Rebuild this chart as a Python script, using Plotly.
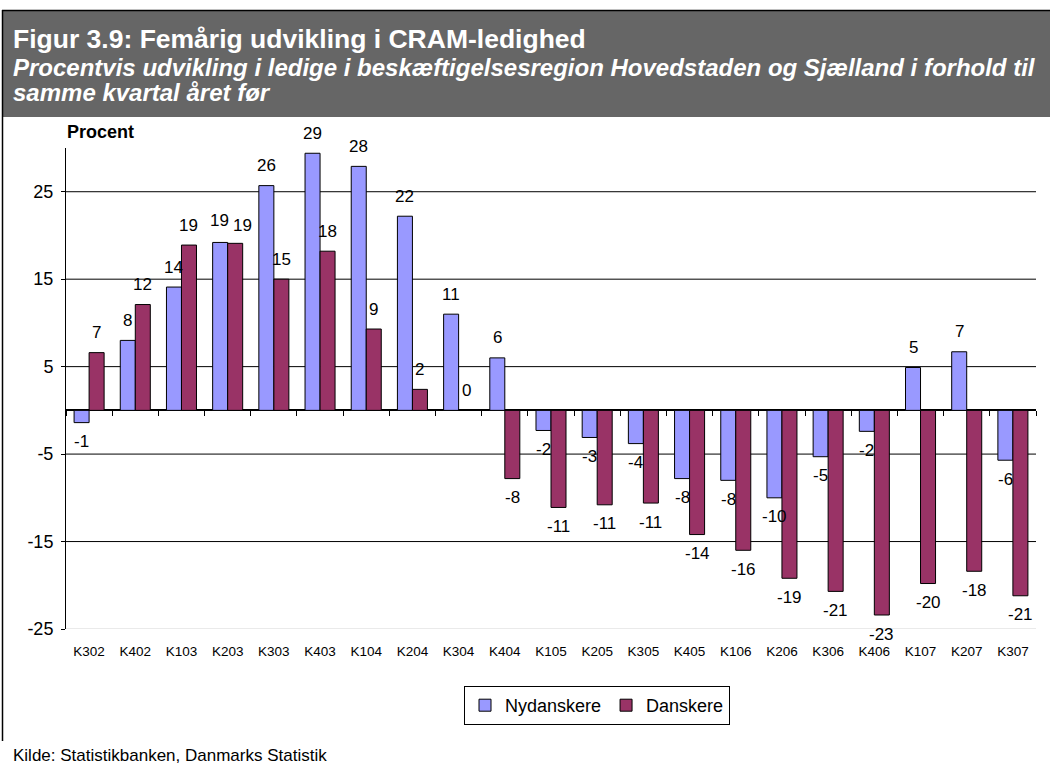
import plotly.graph_objects as go

categories = ["K302", "K402", "K103", "K203", "K303", "K403", "K104", "K204", "K304", "K404",
              "K105", "K205", "K305", "K405", "K106", "K206", "K306", "K406", "K107", "K207", "K307"]
nydanskere = [-1.4, 8.0, 14.1, 19.2, 25.7, 29.4, 27.9, 22.2, 11.0, 6.0,
              -2.3, -3.1, -3.8, -7.8, -8.0, -10.0, -5.3, -2.4, 4.9, 6.7, -5.7]
danskere = [6.6, 12.1, 18.9, 19.1, 15.0, 18.2, 9.3, 2.4, 0.0, -7.8,
            -11.1, -10.8, -10.6, -14.2, -16.0, -19.2, -20.7, -23.4, -19.8, -18.4, -21.2]
y_ticks = [-25, -15, -5, 5, 15, 25]
y_ticktext = ["-25", "-15", "-5", "5", "15", "25"]

title = "Figur 3.9: Femårig udvikling i CRAM-ledighed"
subtitle1 = "Procentvis udvikling i ledige i beskæftigelsesregion Hovedstaden og Sjælland i forhold til"
subtitle2 = "samme kvartal året før"
source = "Kilde: Statistikbanken, Danmarks Statistik"

W, H = 1050, 764
L, R, T, B = 66, 14, 148, 135
PW, PH = W - L - R, H - T - B
FONT = "Arial, 'Liberation Sans', sans-serif"
BARGAP = 0.35
Y_MIN, Y_MAX = -25, 30


def px(x):
    return (x - L) / PW


def py(y):
    return (H - B - y) / PH


def lab(v):
    r = int(round(v))
    return "0" if r == 0 else str(r)


fig = go.Figure()
series = [("Nydanskere", nydanskere, "#9999FF"), ("Danskere", danskere, "#993366")]
for name, vals, col in series:
    fig.add_trace(go.Bar(
        x=categories, y=vals, name=name,
        marker=dict(color=col, line=dict(color="black", width=1)),
        hoverinfo="x+y+name",
    ))

# helper trace for the tick axis drawn on the zero line
fig.add_trace(go.Scatter(x=list(range(len(categories))), y=[None] * len(categories),
                         xaxis="x2", showlegend=False, hoverinfo="skip"))

# value labels (outside end, like the original)
half_bar = PW / len(categories) * (1 - BARGAP) / 4
annotations = []
for s, (name, vals, col) in enumerate(series):
    for i, (c, v) in enumerate(zip(categories, vals)):
        up = v >= 0
        other = series[1 - s][1][i]
        # spread labels apart when both bars of a pair end at nearly the same height
        crowded = (other >= 0) == up and abs(other - v) < 2
        xs = -half_bar if s == 0 else half_bar
        ys = 20 if up else -19
        if crowded:
            xs += (-1 if s == 0 else 7)
            ys += (2 if s == 0 else -2)
        annotations.append(dict(
            x=c, y=v, xref="x", yref="y", text=lab(v), showarrow=False,
            xshift=xs, yshift=ys, xanchor="center", yanchor="middle",
            font=dict(size=17, color="black", family=FONT)))

shapes = [
    dict(type="rect", xref="paper", yref="paper", x0=px(2), x1=px(1052), y0=py(117), y1=py(10),
         fillcolor="#666666", line=dict(width=0), layer="below"),
    dict(type="line", xref="paper", yref="paper", x0=px(2), x1=px(1052), y0=py(10.5), y1=py(10.5),
         line=dict(color="black", width=1.5)),
    dict(type="line", xref="paper", yref="paper", x0=px(2.5), x1=px(2.5), y0=py(10), y1=py(741),
         line=dict(color="black", width=1.5)),
]
for v in y_ticks:
    shapes.append(dict(type="line", xref="paper", yref="y", x0=0, x1=1, y0=v, y1=v,
                       line=dict(color=("#d4d4d4" if v == min(y_ticks) else "black"), width=1),
                       layer="below"))

annotations += [
    dict(text="<b>" + title + "</b>", xref="paper", yref="paper", x=px(11), y=py(39),
         xanchor="left", yanchor="middle", showarrow=False,
         font=dict(size=26.5, color="white", family=FONT)),
    dict(text="<b><i>" + subtitle1 + "</i></b>", xref="paper", yref="paper", x=px(11), y=py(67),
         xanchor="left", yanchor="middle", showarrow=False,
         font=dict(size=24, color="white", family=FONT)),
    dict(text="<b><i>" + subtitle2 + "</i></b>", xref="paper", yref="paper", x=px(11), y=py(92),
         xanchor="left", yanchor="middle", showarrow=False,
         font=dict(size=24, color="white", family=FONT)),
    dict(text="<b>Procent</b>", xref="paper", yref="paper", x=px(65), y=py(132),
         xanchor="left", yanchor="middle", showarrow=False,
         font=dict(size=18, color="black", family=FONT)),
    dict(text=source, xref="paper", yref="paper", x=px(11), y=py(755),
         xanchor="left", yanchor="middle", showarrow=False,
         font=dict(size=17, color="black", family=FONT)),
]

fig.update_layout(
    width=W, height=H,
    margin=dict(l=L, r=R, t=T, b=B, pad=0),
    paper_bgcolor="white", plot_bgcolor="white",
    barmode="group", bargap=BARGAP, bargroupgap=0,
    font=dict(family=FONT, color="black"),
    showlegend=True,
    legend=dict(orientation="h", x=px(597), xanchor="center", y=py(686), yanchor="top",
                bordercolor="black", borderwidth=1, bgcolor="white",
                font=dict(size=18, family=FONT), itemwidth=30, traceorder="normal"),
    xaxis=dict(type="category", showgrid=False, zeroline=False, showline=False, ticks="",
               tickfont=dict(size=13.5, family=FONT), ticklabelstandoff=12,
               range=[-0.5, len(categories) - 0.5]),
    xaxis2=dict(overlaying="x", anchor="free", position=(0 - Y_MIN) / (Y_MAX - Y_MIN),
                range=[-0.5, len(categories) - 0.5],
                tickvals=[i - 0.5 for i in range(len(categories) + 1)],
                ticks="outside", ticklen=5, tickcolor="black", tickwidth=1,
                showticklabels=False, showgrid=False, zeroline=False, showline=False),
    yaxis=dict(range=[Y_MIN, Y_MAX], tickvals=y_ticks, ticktext=y_ticktext, showgrid=False,
               zeroline=True, zerolinecolor="black", zerolinewidth=1.5,
               showline=True, linecolor="black", linewidth=1,
               ticks="outside", ticklen=4, tickcolor="black",
               tickfont=dict(size=18, family=FONT), ticklabelstandoff=4),
    shapes=shapes, annotations=annotations,
)

fig.write_html("out.html", config={"displayModeBar": False},
               post_script="document.body.style.margin='0';")
